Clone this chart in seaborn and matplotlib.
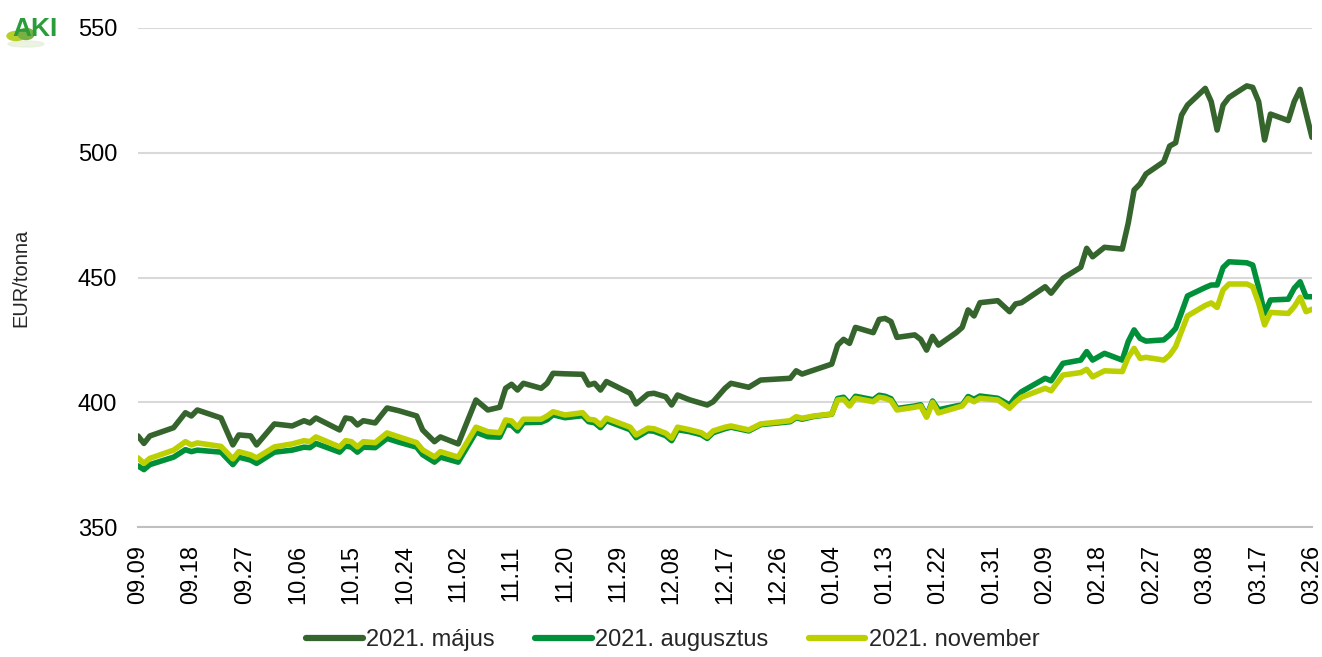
import numpy as np
import pandas as pd
import matplotlib
matplotlib.use("Agg")
import matplotlib.pyplot as plt
import matplotlib.dates as mdates
from matplotlib.patches import Ellipse
import seaborn as sns

sns.set_style("white")
plt.rcParams['font.family'] = ['Liberation Sans', 'DejaVu Sans']

# ----------------------------
# Data
# ----------------------------
dates = [
    "2020-09-09", "2020-09-10", "2020-09-11", "2020-09-15", "2020-09-17", "2020-09-18",
    "2020-09-19", "2020-09-23", "2020-09-25", "2020-09-26", "2020-09-28", "2020-09-29",
    "2020-10-02", "2020-10-05", "2020-10-07", "2020-10-08", "2020-10-09", "2020-10-13",
    "2020-10-14", "2020-10-15", "2020-10-16", "2020-10-17", "2020-10-19", "2020-10-21",
    "2020-10-23", "2020-10-26", "2020-10-27", "2020-10-29", "2020-10-30", "2020-11-02",
    "2020-11-05", "2020-11-07", "2020-11-09", "2020-11-10", "2020-11-11", "2020-11-12",
    "2020-11-13", "2020-11-16", "2020-11-17", "2020-11-18", "2020-11-20", "2020-11-23",
    "2020-11-24", "2020-11-25", "2020-11-26", "2020-11-27", "2020-12-01", "2020-12-02",
    "2020-12-04", "2020-12-05", "2020-12-07", "2020-12-08", "2020-12-09", "2020-12-11",
    "2020-12-13", "2020-12-14", "2020-12-15", "2020-12-17", "2020-12-18", "2020-12-21",
    "2020-12-23", "2020-12-28", "2020-12-29", "2020-12-30", "2021-01-01", "2021-01-04",
    "2021-01-05", "2021-01-06", "2021-01-07", "2021-01-08", "2021-01-11", "2021-01-12",
    "2021-01-13", "2021-01-14", "2021-01-15", "2021-01-18", "2021-01-19", "2021-01-20",
    "2021-01-21", "2021-01-22", "2021-01-25", "2021-01-26", "2021-01-27", "2021-01-28",
    "2021-01-29", "2021-02-01", "2021-02-03", "2021-02-04", "2021-02-05", "2021-02-09",
    "2021-02-10", "2021-02-12", "2021-02-15", "2021-02-16", "2021-02-17", "2021-02-19",
    "2021-02-22", "2021-02-23", "2021-02-24", "2021-02-25", "2021-02-26", "2021-03-01",
    "2021-03-02", "2021-03-03", "2021-03-04", "2021-03-05", "2021-03-08", "2021-03-09",
    "2021-03-10", "2021-03-11", "2021-03-12", "2021-03-15", "2021-03-16", "2021-03-17",
    "2021-03-18", "2021-03-19", "2021-03-22", "2021-03-23", "2021-03-24", "2021-03-25",
    "2021-03-26",
]

majus = [
    386.5, 383.5, 386.5, 389.8, 395.8, 394.5, 396.9, 393.7, 382.9, 386.9, 386.5, 382.9,
    391.3, 390.5, 392.6, 391.7, 393.7, 388.9, 393.7, 393.3, 390.9, 392.6, 391.7, 397.7,
    396.6, 394.5, 388.9, 384.2, 386.1, 383.3, 400.9, 396.9, 398.0, 405.6, 407.2, 404.9,
    407.6, 405.6, 407.6, 411.6, 411.4, 411.2, 406.9, 407.6, 404.9, 408.3, 403.6, 399.3,
    403.3, 403.6, 402.2, 398.9, 402.9, 401.0, 399.6, 398.9, 400.2, 405.6, 407.6, 406.0,
    408.9, 409.6, 412.6, 411.3, 412.9, 415.3, 422.9, 425.2, 423.6, 430.0, 427.9, 433.2,
    433.6, 432.3, 426.0, 427.0, 425.2, 420.9, 426.4, 422.9, 427.9, 430.0, 437.0, 434.6,
    439.9, 440.7, 436.3, 439.4, 439.9, 446.3, 443.7, 449.7, 454.1, 461.7, 458.3, 462.1,
    461.4, 471.7, 485.1, 487.5, 491.5, 496.4, 502.7, 504.0, 515.1, 519.1, 525.8, 520.5,
    509.1, 519.1, 522.2, 526.8, 526.2, 520.5, 505.1, 515.5, 512.9, 520.5, 525.4, 515.8,
    506.2,
]

augusztus = [
    374.5, 373.0, 375.0, 378.0, 381.0, 380.2, 380.8, 380.0, 375.0, 378.0, 376.8, 375.5,
    380.0, 380.8, 382.0, 381.8, 383.5, 380.0, 382.5, 382.0, 380.0, 382.0, 381.8, 385.5,
    384.0, 382.0, 379.0, 376.0, 378.0, 376.0, 388.0, 386.2, 386.0, 391.0, 390.8, 388.5,
    391.8, 392.0, 393.0, 395.0, 393.8, 394.6, 392.2, 391.8, 389.8, 392.6, 389.0, 385.8,
    388.6, 388.4, 386.6, 384.6, 389.0, 388.2, 387.0, 385.5, 387.8, 389.4, 390.0, 388.5,
    391.0, 392.2, 393.8, 393.2, 394.3, 395.2, 401.5, 402.0, 399.3, 402.4, 401.0, 402.8,
    402.4, 401.4, 397.5, 398.5, 399.0, 394.5, 400.5, 397.0, 398.5, 398.9, 402.3, 401.2,
    402.5, 401.6, 398.9, 402.0, 404.2, 409.6, 408.6, 415.6, 416.9, 420.3, 416.9, 419.6,
    416.9, 424.3, 429.0, 425.6, 424.5, 425.0, 427.0, 429.6, 436.0, 442.6, 446.0, 447.0,
    447.0, 454.0, 456.3, 455.9, 455.0, 446.0, 435.6, 441.0, 441.3, 445.7, 448.3, 442.3,
    442.3,
]

november = [
    377.7, 375.5, 377.5, 380.8, 384.2, 382.9, 383.7, 382.3, 377.3, 380.2, 378.9, 377.7,
    382.1, 383.3, 384.6, 384.2, 386.1, 382.1, 384.6, 384.2, 382.1, 384.2, 383.8, 387.7,
    386.1, 383.8, 380.9, 378.1, 380.2, 378.0, 390.0, 388.2, 387.8, 392.9, 392.5, 390.0,
    393.2, 393.2, 394.5, 396.2, 394.9, 395.8, 393.2, 392.9, 390.9, 393.6, 390.0, 386.9,
    389.6, 389.4, 387.6, 385.6, 390.0, 389.0, 387.8, 386.2, 388.5, 390.0, 390.5, 388.9,
    391.3, 392.6, 394.2, 393.6, 394.5, 395.3, 400.9, 401.2, 398.5, 401.6, 400.2, 402.0,
    401.6, 400.6, 396.9, 398.0, 398.5, 394.0, 400.0, 395.7, 397.8, 398.5, 401.5, 400.2,
    401.6, 400.9, 397.6, 400.0, 402.0, 405.6, 404.6, 410.9, 411.9, 413.2, 410.2, 412.6,
    412.3, 418.0, 421.6, 417.6, 418.0, 416.9, 418.9, 422.3, 428.5, 434.6, 438.8, 439.8,
    438.0, 445.0, 447.4, 447.4, 446.3, 439.7, 431.0, 436.0, 435.6, 438.3, 442.1, 436.3,
    437.3,
]

series_names = ["2021. május", "2021. augusztus", "2021. november"]
colors = ["#35652d", "#00903a", "#bccf00"]
y_ticks = [350, 400, 450, 500, 550]

df = pd.DataFrame({
    "date": pd.to_datetime(dates),
    series_names[0]: majus,
    series_names[1]: augusztus,
    series_names[2]: november,
})
long_df = df.melt(id_vars="date", var_name="series", value_name="price")

# ----------------------------
# Plot
# ----------------------------
fig = plt.figure(figsize=(13.22, 6.57), dpi=100)
ax = fig.add_axes([138 / 1322, 1 - 527 / 657, 1174 / 1322, 499 / 657])

sns.lineplot(data=long_df, x="date", y="price", hue="series",
             hue_order=series_names, palette=colors, linewidth=4.0,
             ax=ax, legend=False)

start, end = pd.Timestamp("2020-09-09"), pd.Timestamp("2021-03-26")
ax.set_xlim(start, end)
ax.set_ylim(350, 550)
ax.set_yticks(y_ticks)
ax.set_xticks(pd.date_range(start, end, freq="9D"))
ax.xaxis.set_major_formatter(mdates.DateFormatter("%m.%d"))
plt.setp(ax.get_xticklabels(), rotation=90)

ax.yaxis.grid(True, color="#d9d9d9", linewidth=1.5)
ax.xaxis.grid(False)
ax.set_axisbelow(True)
for s in ["left", "top", "right"]:
    ax.spines[s].set_visible(False)
ax.spines["bottom"].set_color("#bfbfbf")
ax.spines["bottom"].set_linewidth(1.5)
ax.tick_params(axis="x", length=7, width=1.2, color="#bfbfbf", pad=6,
               labelsize=17, labelcolor="black")
ax.tick_params(axis="y", length=0, pad=15, labelsize=17, labelcolor="black")

ax.set_xlabel("")
ax.set_ylabel("EUR/tonna", fontsize=14.5)
ax.yaxis.set_label_coords(-0.092, 0.5)

handles = [plt.Line2D([], [], color=c, linewidth=4.5) for c in colors]
fig.legend(handles, series_names, loc="center", bbox_to_anchor=(0.509, 0.026),
           ncol=3, frameon=False, fontsize=17, handlelength=2.4,
           handletextpad=0.15, columnspacing=1.7)

# AKI logo (pixel coordinates inside a small corner axes)
lax = fig.add_axes([0, 1 - 52 / 657, 62 / 1322, 52 / 657])
lax.set_xlim(0, 62)
lax.set_ylim(52, 0)
lax.axis("off")
lax.add_patch(Ellipse((26, 44), 36, 6, color="#e4efd6", alpha=0.7, zorder=1))
lax.add_patch(Ellipse((16, 36), 18, 9, color="#b8cf2a", zorder=2))
lax.add_patch(Ellipse((26, 34), 16, 11, color="#78b043", zorder=2))
lax.text(12, 36, "AKI", fontsize=19, fontweight="bold", color="#2a9d3a",
         va="baseline", ha="left", zorder=3)

fig.savefig("out.png", dpi=100)
